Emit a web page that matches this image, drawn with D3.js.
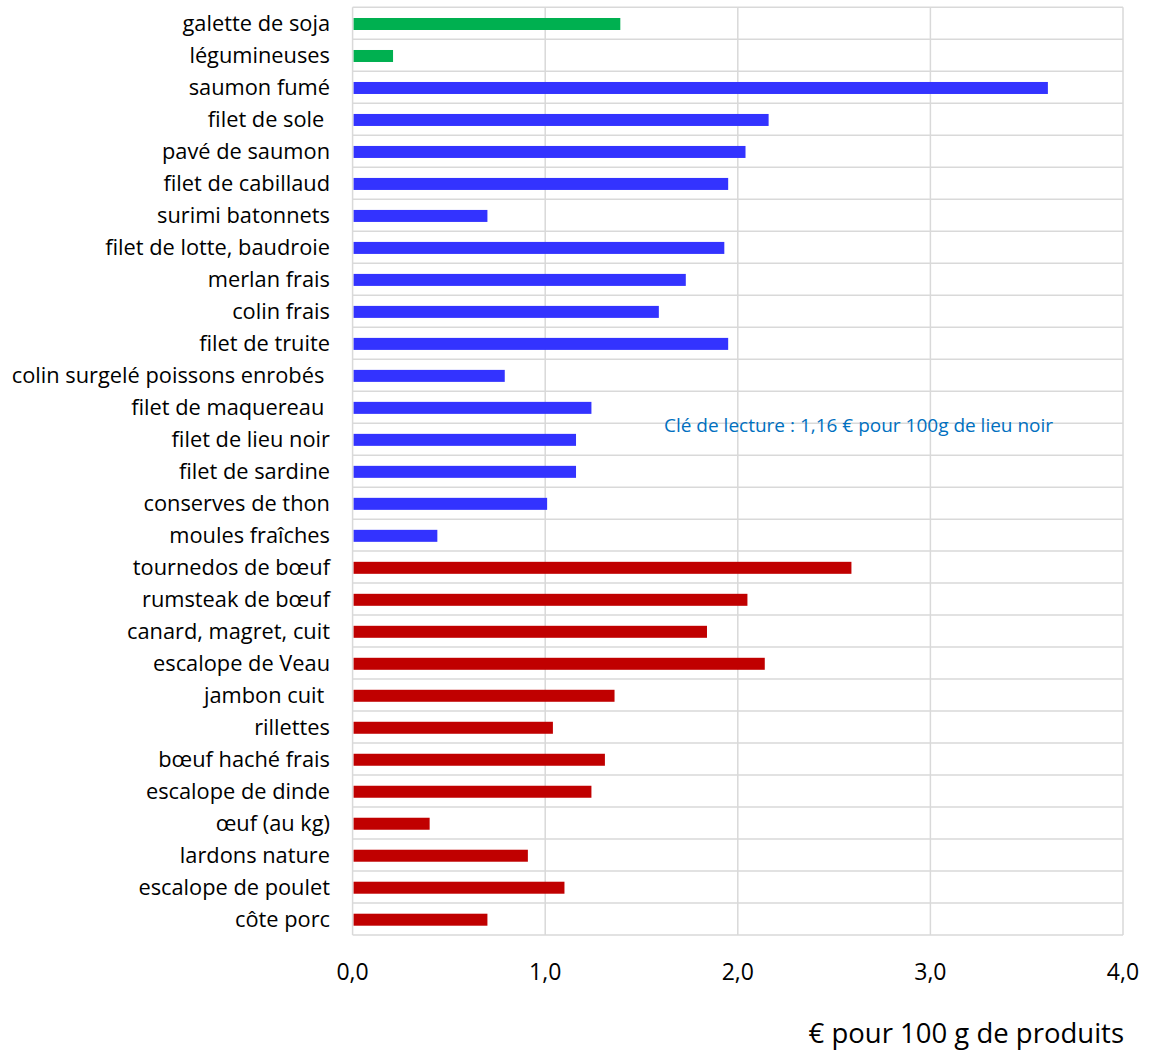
<!DOCTYPE html>
<html>
<head>
<meta charset="utf-8">
<script src="https://cdn.jsdelivr.net/npm/d3@7"></script>
<style>
  html, body { margin: 0; padding: 0; background: #fff; }
  svg { display: block; }
  text { font-family: "Open Sans", "DejaVu Sans", sans-serif; }
</style>
</head>
<body>
<div id="chart"></div>
<script>
const categories = [
  "galette de soja", "légumineuses", "saumon fumé", "filet de sole ", "pavé de saumon",
  "filet de cabillaud", "surimi batonnets", "filet de lotte, baudroie", "merlan frais",
  "colin frais", "filet de truite", "colin surgelé poissons enrobés ", "filet de maquereau ",
  "filet de lieu noir", "filet de sardine", "conserves de thon", "moules fraîches",
  "tournedos de bœuf", "rumsteak de bœuf", "canard, magret, cuit", "escalope de Veau",
  "jambon cuit ", "rillettes", "bœuf haché frais", "escalope de dinde", "œuf (au kg)",
  "lardons nature", "escalope de poulet", "côte porc"
];
const values = [
  1.39, 0.21, 3.61, 2.16, 2.04,
  1.95, 0.70, 1.93, 1.73,
  1.59, 1.95, 0.79, 1.24,
  1.16, 1.16, 1.01, 0.44,
  2.59, 2.05, 1.84, 2.14,
  1.36, 1.04, 1.31, 1.24, 0.40,
  0.91, 1.10, 0.70
];
const groups = [
  "vegetal", "vegetal", "poisson", "poisson", "poisson",
  "poisson", "poisson", "poisson", "poisson",
  "poisson", "poisson", "poisson", "poisson",
  "poisson", "poisson", "poisson", "poisson",
  "viande", "viande", "viande", "viande",
  "viande", "viande", "viande", "viande", "viande",
  "viande", "viande", "viande"
];
const groupNames = ["vegetal", "poisson", "viande"];
const groupColors = ["#00b050", "#3333ff", "#c00000"];
const xTicks = [0, 1, 2, 3, 4];
const xTickLabels = ["0,0", "1,0", "2,0", "3,0", "4,0"];
const axisTitle = "€ pour 100 g de produits";
const note = "Clé de lecture : 1,16 € pour 100g de lieu noir";

const W = 1152, H = 1052;
const plot = { left: 352.6, right: 1123, top: 7.3, bottom: 935 };

const svg = d3.select("#chart").append("svg").attr("width", W).attr("height", H);

const x = d3.scaleLinear().domain([0, 4]).range([plot.left, plot.right]);
const y = d3.scaleBand().domain(categories).range([plot.top, plot.bottom]).padding(0);
const color = d3.scaleOrdinal().domain(groupNames).range(groupColors);

const gridColor = "#d9d9d9";

// horizontal grid lines at row boundaries
const boundaries = categories.map(c => y(c)).concat([y(categories[categories.length - 1]) + y.bandwidth()]);
svg.append("g").selectAll("line").data(boundaries).join("line")
  .attr("x1", plot.left).attr("x2", plot.right)
  .attr("y1", d => d).attr("y2", d => d)
  .attr("stroke", gridColor).attr("stroke-width", 1.5);

// vertical grid lines
svg.append("g").selectAll("line").data(xTicks).join("line")
  .attr("x1", d => x(d)).attr("x2", d => x(d))
  .attr("y1", plot.top).attr("y2", plot.bottom)
  .attr("stroke", gridColor).attr("stroke-width", 1.5);

// bars
const barH = y.bandwidth() * 0.375;
svg.append("g").selectAll("rect").data(categories).join("rect")
  .attr("x", x(0) + 1)
  .attr("y", d => y(d) + (y.bandwidth() - barH) / 2 + 0.7)
  .attr("width", (d, i) => x(values[i]) - x(0) - 1)
  .attr("height", barH)
  .attr("fill", (d, i) => color(groups[i]));

// category labels
svg.append("g").selectAll("text").data(categories).join("text")
  .attr("x", 330)
  .attr("y", d => y(d) + y.bandwidth() / 2)
  .attr("dy", "0.35em")
  .attr("text-anchor", "end")
  .attr("font-size", 21.8)
  .attr("fill", "#000")
  .style("white-space", "pre")
  .text(d => d);

// x tick labels
svg.append("g").selectAll("text").data(xTicks).join("text")
  .attr("x", d => x(d))
  .attr("y", 980)
  .attr("text-anchor", "middle")
  .attr("font-size", 23)
  .attr("fill", "#000")
  .text((d, i) => xTickLabels[i]);

// axis title
svg.append("text")
  .attr("x", 1124).attr("y", 1043)
  .attr("text-anchor", "end")
  .attr("font-size", 27.5)
  .attr("fill", "#000")
  .text(axisTitle);

// reading key note
svg.append("text")
  .attr("x", 664).attr("y", 432)
  .attr("font-size", 19)
  .attr("fill", "#0070c0")
  .text(note);
</script>
</body>
</html>
